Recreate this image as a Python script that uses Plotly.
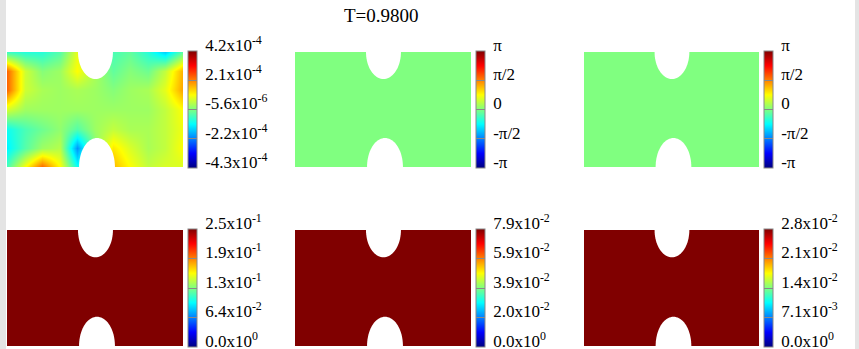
import plotly.graph_objects as go
import numpy as np

W, H = 859, 349

title_text = "T=0.9800"

# Panel 1 field (units of 1e-4), rows top -> bottom, columns left -> right
field1_rows = [
    [-0.6, -0.8, -0.8, -0.4, 0.8, 0.0, -0.5, -0.3, -0.8, -1.5, -0.3],
    [2.3, 0.6, 0.0, 0.2, 1.0, 0.3, -0.3, 0.0, -0.2, 0.5, 1.7],
    [2.3, 0.6, 0.3, 0.2, 0.3, 0.2, 0.0, 0.2, 0.3, 0.8, 1.8],
    [0.6, 0.2, 0.2, 0.2, 0.2, 0.2, 0.2, 0.2, 0.2, 0.5, 1.0],
    [-1.0, -0.5, -0.2, 0.1, -0.4, 0.2, 0.5, 0.3, 0.3, 0.5, 0.9],
    [-1.2, -0.4, 0.2, 0.4, -2.0, 0.0, 1.2, 0.7, 0.3, 0.5, 1.0],
    [-0.5, 1.0, 2.3, 1.0, -1.0, 0.0, 1.6, 1.0, 0.5, 0.7, 0.7],
]
field1_scale = 1e-4

# colour ranges and field values of each panel
panel_min = [-4.3e-4, -np.pi, -np.pi, 0.0, 0.0, 0.0]
panel_max = [4.2e-4, np.pi, np.pi, 2.5e-1, 7.9e-2, 2.8e-2]
uniform_value = [None, 0.0, 0.0, 2.5e-1, 7.9e-2, 2.8e-2]

tick_labels = [
    ["-4.3x10<sup>-4</sup>", "-2.2x10<sup>-4</sup>", "-5.6x10<sup>-6</sup>", "2.1x10<sup>-4</sup>", "4.2x10<sup>-4</sup>"],
    ["-π", "-π/2", "0", "π/2", "π"],
    ["-π", "-π/2", "0", "π/2", "π"],
    ["0.0x10<sup>0</sup>", "6.4x10<sup>-2</sup>", "1.3x10<sup>-1</sup>", "1.9x10<sup>-1</sup>", "2.5x10<sup>-1</sup>"],
    ["0.0x10<sup>0</sup>", "2.0x10<sup>-2</sup>", "3.9x10<sup>-2</sup>", "5.9x10<sup>-2</sup>", "7.9x10<sup>-2</sup>"],
    ["0.0x10<sup>0</sup>", "7.1x10<sup>-3</sup>", "1.4x10<sup>-2</sup>", "2.1x10<sup>-2</sup>", "2.8x10<sup>-2</sup>"],
]

jet = [
    [0.0, "rgb(0,0,128)"],
    [0.125, "rgb(0,0,255)"],
    [0.375, "rgb(0,255,255)"],
    [0.625, "rgb(255,255,0)"],
    [0.875, "rgb(255,0,0)"],
    [1.0, "rgb(128,0,0)"],
]
clear = [[0, "rgba(0,0,0,0)"], [1, "rgba(0,0,0,0)"]]

# geometry (data units: x 0..1.5, y 0..1)
XMAX, YMAX = 1.5, 1.0
ncol = len(field1_rows[0])
nrow = len(field1_rows)
xs = np.linspace(0, XMAX, ncol)
ys = np.linspace(0, YMAX, nrow)

# pixel layout
panel_x = [(7, 183), (295, 471), (584, 759)]
bar_x = [188, 476, 764]
row_y = [(52, 167), (230, 346)]
bar_y = [(51, 168), (229, 347)]
LABEL_LIFT = 6   # px the labels sit above their tick
EXT = 10         # px the label-only bar extends upward

font = "Liberation Serif"

fig = go.Figure()

def half_ellipse(cx, ey, a, b, down=True):
    s = -1 if down else 1
    t = np.linspace(np.pi, 0, 41)
    px = cx + a * np.cos(t)
    py = ey + s * b * np.sin(t)
    pts = [(cx - a, ey - s * 0.05)] + list(zip(px, py)) + [(cx + a, ey - s * 0.05)]
    return "M " + " L ".join(f"{x:.4f},{y:.4f}" for x, y in pts) + " Z"

shapes = []
for i in range(6):
    r, c = divmod(i, 3)
    ax = "" if i == 0 else str(i + 1)
    if i == 0:
        z = [[v * field1_scale for v in row] for row in field1_rows[::-1]]
    else:
        z = [[uniform_value[i]] * ncol for _ in range(nrow)]
    zmin, zmax = panel_min[i], panel_max[i]
    tv = np.linspace(zmin, zmax, 5)
    by0, by1 = bar_y[r]
    d = (zmax - zmin) / (by1 - by0)
    fig.add_trace(go.Heatmap(
        x=xs, y=ys, z=z, zmin=zmin, zmax=zmax, colorscale=jet,
        zsmooth="best", xaxis="x" + ax, yaxis="y" + ax, hoverinfo="skip",
        colorbar=dict(
            x=bar_x[c] / W, xanchor="left", xpad=0, ypad=0,
            y=1 - (by0 + by1) / 2 / H, yanchor="middle",
            len=(by1 - by0) / H, lenmode="fraction",
            thickness=9, thicknessmode="pixels",
            outlinewidth=1, outlinecolor="#888888",
            tickmode="array", tickvals=list(tv), showticklabels=False,
            ticks="inside", ticklen=9, tickcolor="#888888", tickwidth=1,
        ),
    ))
    # label-only colour bar (transparent), so labels can sit slightly above ticks
    fig.add_trace(go.Scatter(
        x=[0.01], y=[0.5], mode="markers", xaxis="x" + ax, yaxis="y" + ax,
        hoverinfo="skip", showlegend=False,
        marker=dict(size=1, opacity=0, color=[zmin], cmin=zmin, cmax=zmax + EXT * d,
                    colorscale=clear, showscale=True,
                    colorbar=dict(
                        x=bar_x[c] / W, xanchor="left", xpad=0, ypad=0,
                        y=1 - ((by0 - EXT) + by1) / 2 / H, yanchor="middle",
                        len=(by1 - by0 + EXT) / H, lenmode="fraction",
                        thickness=9, thicknessmode="pixels",
                        outlinewidth=0, ticks="",
                        tickmode="array", tickvals=list(tv + LABEL_LIFT * d),
                        ticktext=["\u00a0" + t for t in tick_labels[i]],
                        ticklabeloverflow="allow",
                        tickfont=dict(family=font, size=17, color="black"),
                    )),
    ))
    x0, x1 = panel_x[c]
    y0, y1 = row_y[r]
    fig.update_layout(**{
        "xaxis" + ax: dict(domain=[x0 / W, x1 / W], range=[0, XMAX], visible=False,
                           anchor="y" + ax, fixedrange=True),
        "yaxis" + ax: dict(domain=[1 - y1 / H, 1 - y0 / H], range=[0, YMAX], visible=False,
                           anchor="x" + ax, fixedrange=True),
    })
    xr, yr = "x" + ax, "y" + ax
    shapes.append(dict(type="path", xref=xr, yref=yr, layer="above",
                       path=half_ellipse(0.754, YMAX, 0.149, 0.235, down=True),
                       fillcolor="white", line=dict(width=0)))
    shapes.append(dict(type="path", xref=xr, yref=yr, layer="above",
                       path=half_ellipse(0.767, 0.0, 0.153, 0.252, down=False),
                       fillcolor="white", line=dict(width=0)))

# grey strips at left/right
shapes.append(dict(type="rect", xref="paper", yref="paper", x0=0, x1=6 / W, y0=0, y1=1,
                   fillcolor="#e4e4e4", line=dict(width=0), layer="below"))
shapes.append(dict(type="rect", xref="paper", yref="paper", x0=855 / W, x1=1, y0=0, y1=1,
                   fillcolor="#e4e4e4", line=dict(width=0), layer="below"))

fig.update_layout(
    width=W, height=H, margin=dict(l=0, r=0, t=0, b=0),
    paper_bgcolor="white", plot_bgcolor="white",
    font=dict(family=font), showlegend=False,
    shapes=shapes,
    annotations=[dict(text=title_text, x=381.5 / W, y=1 - 15 / H, xref="paper", yref="paper",
                      showarrow=False, font=dict(family=font, size=19, color="black"),
                      xanchor="center", yanchor="middle")],
)

fig.write_html("out.html", config={"displayModeBar": False},
               post_script="document.body.style.margin='0';document.body.style.padding='0';")
